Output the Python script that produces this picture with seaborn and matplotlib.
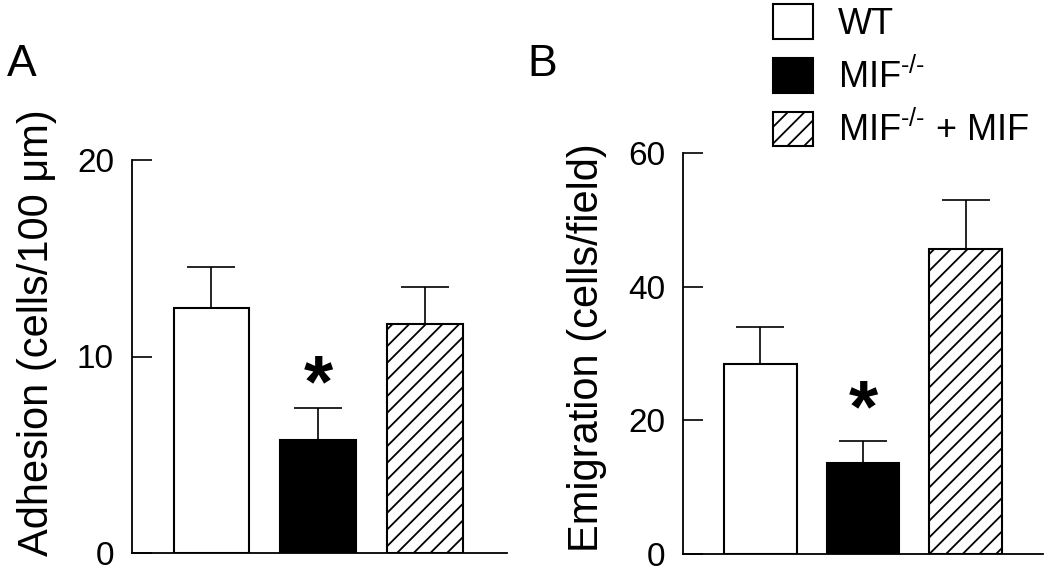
import matplotlib
matplotlib.use('Agg')
import matplotlib.pyplot as plt
from matplotlib.patches import Patch
import seaborn as sns

# Данные
groups = ['WT', 'MIF-/-', 'MIF-/- + MIF']
legend_labels = ['WT', r'MIF$^{\mathregular{‐/‐}}$', r'MIF$^{\mathregular{‐/‐}}$ + MIF']
adhesion = [12.45, 5.77, 11.63]
adhesion_err = [2.1, 1.6, 1.9]
emigration = [28.4, 13.65, 45.7]
emigration_err = [5.5, 3.25, 7.3]
adhesion_ticks = [0, 10, 20]
emigration_ticks = [0, 20, 40, 60]
star_adhesion = 9.2
star_emigration = 23.5

bar_colors = ['white', 'black', 'white']
bar_hatches = ['', '', '//']

sns.set_style('ticks')
plt.rcParams['font.family'] = ['Liberation Sans', 'DejaVu Sans']
plt.rcParams['mathtext.fontset'] = 'custom'
plt.rcParams['mathtext.rm'] = 'Liberation Sans'
plt.rcParams['hatch.linewidth'] = 1.3
plt.rcParams['hatch.color'] = 'black'
for key in ['text.color', 'axes.labelcolor', 'xtick.color', 'ytick.color']:
    plt.rcParams[key] = 'black'


def draw_panel(ax, values, errs, ticks, ylabel, star_y, xlim, label_coords):
    sns.barplot(x=groups, y=values, hue=groups, palette=bar_colors,
                edgecolor='black', linewidth=1.5, width=0.71, saturation=1,
                legend=False, ax=ax, zorder=2)
    for patch, h in zip(ax.patches, bar_hatches):
        patch.set_hatch(h)
    # только верхняя половина планки погрешности
    ax.errorbar(range(len(values)), values,
                yerr=[[0] * len(errs), errs], fmt='none', ecolor='black',
                elinewidth=1.2, capsize=17, capthick=1.2, zorder=1)
    ax.annotate('*', xy=(1, star_y), xytext=(0, -24.5), textcoords='offset points',
                ha='center', va='baseline', fontsize=54, fontweight='bold')
    ax.set_ylim(ticks[0], ticks[-1])
    ax.set_xlim(*xlim)
    ax.set_yticks(ticks)
    ax.set_xticks([])
    ax.set_xlabel('')
    ax.set_ylabel(ylabel, fontsize=30)
    ax.yaxis.set_label_coords(*label_coords)
    ax.tick_params(axis='y', direction='in', length=14.5, width=1.2,
                   labelsize=24, pad=13)
    for side in ['top', 'right']:
        ax.spines[side].set_visible(False)
    for side in ['left', 'bottom']:
        ax.spines[side].set_linewidth(1.3)
        ax.spines[side].set_color('black')


fig = plt.figure(figsize=(10.5, 5.72), dpi=100)
ax_a = fig.add_axes([132 / 1050, 19 / 572, 375 / 1050, 393 / 572])
ax_b = fig.add_axes([683 / 1050, 18 / 572, 360 / 1050, 401 / 572])

draw_panel(ax_a, adhesion, adhesion_err, adhesion_ticks,
           'Adhesion (cells/100 μm)', star_adhesion, (-0.745, 2.77), (-0.2, 0.56))
draw_panel(ax_b, emigration, emigration_err, emigration_ticks,
           'Emigration (cells/field)', star_emigration, (-0.756, 2.756), (-0.21, 0.515))

fig.text(7 / 1050, 1 - 76 / 572, 'A', fontsize=32, va='baseline')
fig.text(527 / 1050, 1 - 76 / 572, 'B', fontsize=32, va='baseline')

handles = [Patch(facecolor=c, edgecolor='black', hatch=h, linewidth=1.5)
           for c, h in zip(bar_colors, bar_hatches)]
fig.legend(handles, legend_labels, loc='upper left',
           bbox_to_anchor=(773 / 1050, 1 - 4 / 572), frameon=False,
           fontsize=26, handlelength=1.1, handleheight=1.1,
           handletextpad=0.7, labelspacing=0.45, borderpad=0, borderaxespad=0)

fig.savefig('out.png', dpi=100)
